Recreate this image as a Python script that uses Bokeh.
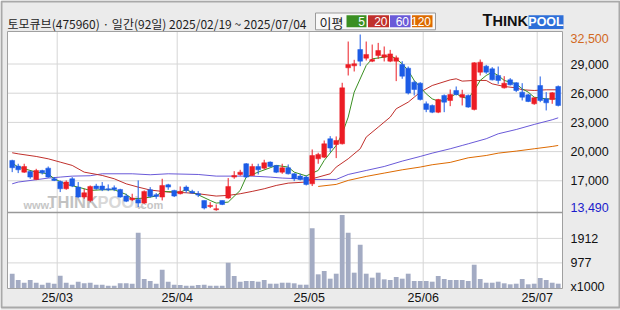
from bokeh.plotting import figure
from bokeh.models import Range1d
from bokeh.embed import file_html
from bokeh.resources import INLINE
from bokeh.core.properties import value

# ---------------- data ----------------
title_text = "토모큐브(475960) · 일간(92일) 2025/02/19 ~ 2025/07/04"
ma_names = ["5", "20", "60", "120"]

opens = [19090, 18510, 17890, 17960, 17140, 18060, 18300, 17210, 16930, 16180,
         17210, 16350, 15330, 14980, 16460, 16460, 16180, 16280, 16110, 15430,
         15050, 15090, 14710, 16080, 15560, 15330, 16590, 16010, 15670, 16350,
         15910, 15670, 14980, 14370, 14020, 14980, 15220, 17380, 17650, 18750,
         17550, 18470, 18300, 18920, 18580, 17890, 18340, 17720, 17480, 17380,
         16690, 19260, 19430, 21320, 20730, 20800, 28610, 28810, 30490, 29600,
         29290, 29870, 29700, 29290, 29290, 28950, 28570, 27130, 27030, 24910,
         24740, 24050, 25770, 25250, 26280, 25590, 25770, 24330, 28160, 28780,
         28500, 27820, 26550, 27370, 27070, 26110, 25830, 24910, 26790, 25420,
         25350, 26690]
highs = [19160, 18750, 18750, 18060, 18230, 18130, 18470, 17380, 17040, 17040,
         17380, 16870, 16180, 16520, 16690, 16870, 16630, 16520, 16180, 15670,
         15670, 17040, 16010, 16350, 15740, 17210, 16690, 16080, 16420, 16520,
         16080, 15940, 14980, 14810, 14570, 14980, 17280, 17990, 18130, 18820,
         18750, 18750, 19160, 18990, 18580, 18750, 18680, 17790, 17720, 17550,
         20220, 19880, 21140, 21590, 21560, 27070, 31310, 29430, 32030, 31310,
         31000, 31170, 30800, 30450, 29870, 29290, 28740, 27310, 27130, 25150,
         24840, 25420, 25870, 26380, 26690, 26350, 25870, 29190, 29460, 28910,
         28680, 28740, 27750, 27550, 27130, 27030, 25940, 25590, 27720, 26110,
         26110, 26790]
lows = [17890, 17790, 17820, 17210, 17070, 17650, 17310, 16970, 15840, 16080,
        16350, 15260, 15150, 14810, 16080, 15940, 15940, 15940, 15260, 14810,
        14910, 14300, 14640, 15260, 15150, 14980, 16080, 15330, 15600, 15770,
        15670, 15330, 14060, 14200, 13920, 14500, 15150, 17210, 17520, 17310,
        17480, 17650, 18170, 18410, 17790, 17720, 17650, 16970, 17040, 16520,
        16460, 18750, 19330, 19950, 19330, 20730, 27820, 28230, 28780, 29360,
        29190, 29530, 29260, 29190, 27240, 27480, 25870, 25770, 25250, 24050,
        23950, 23950, 24050, 24670, 25770, 24740, 24500, 24230, 27820, 27990,
        27310, 26960, 26480, 26790, 26110, 25250, 25080, 24810, 25080, 24230,
        24910, 24640]
closes = [18340, 18130, 18470, 17380, 18060, 17820, 17380, 17040, 16180, 16870,
          16460, 15330, 15770, 16420, 16180, 16080, 16080, 16110, 15330, 14910,
          15220, 14710, 15910, 15390, 15390, 16520, 16350, 15430, 15910, 16010,
          15740, 15530, 14200, 14470, 14130, 14570, 16420, 17550, 17890, 17380,
          18470, 18130, 18850, 18470, 17890, 18340, 17720, 17210, 17140, 16630,
          19600, 19710, 20800, 20360, 21140, 26550, 28950, 29020, 29290, 29980,
          29460, 30390, 29940, 30040, 29630, 27750, 26010, 26380, 25350, 24330,
          24050, 25350, 25080, 25870, 25870, 25870, 24570, 29120, 29190, 28160,
          27370, 27310, 27030, 26860, 26280, 25590, 25150, 25530, 25250, 25010,
          26040, 24740]
volumes = [565, 324, 221, 324, 221, 145, 221, 183, 489, 221,
           145, 260, 198, 221, 145, 145, 107, 107, 198, 198,
           183, 2130, 363, 286, 183, 718, 260, 145, 134, 107,
           107, 134, 145, 107, 107, 107, 985, 477, 260, 286,
           286, 260, 324, 183, 183, 221, 221, 198, 145, 145,
           2298, 541, 668, 375, 565, 2805, 2130, 604, 1672, 565,
           413, 604, 350, 324, 439, 375, 565, 286, 286, 286,
           260, 477, 363, 324, 324, 324, 286, 908, 363, 221,
           221, 260, 198, 160, 183, 363, 160, 183, 400, 324,
           221, 183]

# moving averages (candle index, value)
ma5_idx = [0, 1, 4, 6, 7, 9, 11, 13, 15, 17, 19, 20, 22, 24, 25, 28, 29, 31, 33, 34,
           36, 38, 39, 41, 43, 44, 46, 47, 49, 50, 51, 52, 54, 55, 56, 57, 59, 60, 62, 63,
           64, 65, 66, 67, 68, 69, 70, 71, 72, 73, 74, 75, 76, 77, 78, 79, 80, 81, 82, 84,
           85, 86, 87, 89, 90, 91]
ma5_val = [18820, 18410, 17890, 17720, 17210, 16630, 16350, 16010, 16080, 16080, 15600, 15150, 15220, 15430, 15910, 15840, 16080, 15560, 14980, 14710,
           14810, 16010, 17380, 17890, 18340, 18580, 18410, 17890, 17500, 17790, 18060, 19090, 20630, 21830, 23540, 26110, 28850, 29530, 29700, 29870,
           29530, 29020, 28330, 27310, 26620, 25940, 25420, 25180, 25250, 25590, 25940, 25600, 25450, 26280, 27310, 27820, 28160, 27820, 27310, 26960,
           26450, 26110, 25590, 25420, 25420, 25420]
ma20_idx = [0, 1, 4, 6, 8, 10, 12, 15, 17, 19, 21, 23, 26, 29, 31, 34, 36, 38, 40, 42,
            44, 46, 49, 50, 53, 54, 56, 58, 59, 61, 63, 64, 66, 67, 68, 70, 73, 74, 75, 77,
            79, 80, 82, 84, 85, 87, 89, 91]
ma20_val = [19880, 19770, 19500, 19260, 18920, 18580, 17890, 17550, 17210, 16690, 16350, 16050, 15840, 15770, 15670, 15430, 15500, 15670, 15910, 16180,
            16520, 16760, 16870, 17210, 17720, 18410, 19260, 20290, 21490, 22510, 23540, 24400, 25080, 25590, 26110, 26790, 27370, 27480, 27240, 27310,
            27310, 26960, 26690, 26550, 26350, 26280, 26350, 26350]
ma60_idx = [0, 1, 4, 6, 8, 10, 13, 15, 20, 23, 26, 31, 34, 40, 43, 45, 48, 50, 54, 56,
            59, 62, 65, 68, 70, 73, 75, 76, 79, 81, 84, 87, 90, 91]
ma60_val = [16690, 16870, 17110, 17280, 17380, 17480, 17520, 17720, 17720, 17620, 17720, 17650, 17480, 17480, 17380, 17280, 17210, 17140, 17140, 17650,
            18060, 18470, 19020, 19500, 19840, 20290, 20630, 20800, 21320, 21830, 22270, 22790, 23270, 23470]
ma120_idx = [51, 54, 56, 59, 62, 65, 68, 70, 73, 76, 79, 81, 84, 87, 90, 91]
ma120_val = [16420, 16630, 17040, 17450, 17790, 18130, 18410, 18650, 18890, 19360, 19600, 19840, 20050, 20290, 20530, 20630]

price_ticks = [17000, 20000, 23000, 26000, 29000]
price_max_label = "32,500"
price_min_label = "13,490"
vol_ticks = [977, 1912]
vol_unit = "x1000"
month_first_idx = [8, 28, 50, 69, 88]
month_labels = ["25/03", "25/04", "25/05", "25/06", "25/07"]

# ---------------- styles / layout (pixels) ----------------
UP, DOWN = "#ec1c24", "#1c5ce6"
MA_COLORS = ["#3a8f22", "#c0302c", "#6a5ad8", "#dd6a00"]
VOL_COLOR = "#a3abc3"
GRID = "#d6d6d6"
BG = "#ebebeb"
FONT = value("Liberation Sans")
KFONT = value("Noto Sans CJK KR")
W, H = 620, 310
L, R, T, SPL, B = 7, 562, 31, 212, 288       # panel edges
X_FIRST, X_STEP = 11.7, 6.0                   # candle pitch
P_REF, P_REF_Y, P_PX = 29000, 63.5, 0.009733  # price scale
V_PX = 0.0262                                 # volume scale (px per 1000 shares)

p = figure(width=W, height=H, x_range=Range1d(0, W), y_range=Range1d(H, 0),
           output_backend="svg", toolbar_location=None, min_border=0,
           x_axis_location=None, y_axis_location=None)
p.grid.visible = False
p.outline_line_color = None
p.background_fill_color = BG
p.border_fill_color = BG
p.extra_x_ranges = {"idx": Range1d((0 - X_FIRST) / X_STEP, (W - X_FIRST) / X_STEP)}
p.extra_y_ranges = {
    "price": Range1d(P_REF - (H - P_REF_Y) / P_PX, P_REF + P_REF_Y / P_PX),
    "vol": Range1d(-(H - B) / V_PX, B / V_PX),
}

# outer frame and panel
p.quad(left=[1], right=[W - 1], top=[1], bottom=[307], fill_color=None, line_color="#a9a9a9", line_width=2)
p.quad(left=[L], right=[R], top=[T], bottom=[B], fill_color="white", line_color=None)

# watermark (under everything)
for x, txt, size, col in ((23, "www.", "11px", "#c6c6c6"), (47, "THINK", "16.5px", "#c2c2c2"),
                          (97, "POOL", "16.5px", "#d8d8d8"), (137, ".com", "11px", "#c6c6c6")):
    p.text(x=[x], y=[210.5], text=[txt], text_baseline="bottom", text_font=FONT,
           text_font_style="bold", text_font_size=size, text_color=col)

# grids
month_ticks = [i - 0.5 for i in month_first_idx]
p.segment(x0=month_ticks, x1=month_ticks, y0=[T] * 5, y1=[B] * 5, x_range_name="idx",
          line_color=GRID, line_width=1)
p.segment(x0=[L] * len(price_ticks), x1=[R] * len(price_ticks), y0=price_ticks, y1=price_ticks,
          y_range_name="price", line_color=GRID, line_width=1)
p.segment(x0=[L] * len(vol_ticks), x1=[R] * len(vol_ticks), y0=vol_ticks, y1=vol_ticks,
          y_range_name="vol", line_color=GRID, line_width=1)

idx = list(range(len(closes)))
# volume
p.vbar(x=idx, width=0.8, top=volumes, bottom=0, x_range_name="idx", y_range_name="vol",
       fill_color=VOL_COLOR, line_color=None)

# moving averages
for xs, ys, c in ((ma120_idx, ma120_val, MA_COLORS[3]), (ma60_idx, ma60_val, MA_COLORS[2]),
                  (ma20_idx, ma20_val, MA_COLORS[1]), (ma5_idx, ma5_val, MA_COLORS[0])):
    p.line(xs, ys, x_range_name="idx", y_range_name="price", line_color=c, line_width=1)

# candles
colors = [UP if c >= o else DOWN for o, c in zip(opens, closes)]
tops = [max(o, c) for o, c in zip(opens, closes)]
bots = [min(o, c) for o, c in zip(opens, closes)]
p.segment(x0=idx, y0=lows, x1=idx, y1=highs, x_range_name="idx", y_range_name="price",
          line_color=colors, line_width=1)
p.vbar(x=idx, width=0.8, top=tops, bottom=bots, x_range_name="idx", y_range_name="price",
       fill_color=colors, line_color=colors, line_width=0.5)

# panel borders and separator
p.quad(left=[L], right=[R], top=[T], bottom=[B], fill_color=None, line_color="#a0a0a0", line_width=1)
p.segment(x0=[L], x1=[R], y0=[SPL], y1=[SPL], line_color="#999999", line_width=1.5)

# right-hand labels
p.text(x=[570] * len(price_ticks), y=price_ticks, text=[f"{v:,}" for v in price_ticks],
       y_range_name="price", text_baseline="middle", text_font=FONT, text_font_size="12.5px",
       text_color="#111111")
p.text(x=[570], y=[37.5], text=[price_max_label], text_baseline="middle", text_font=FONT,
       text_font_size="12.5px", text_color="#d2691e")
p.text(x=[570], y=[207], text=[price_min_label], text_baseline="middle", text_font=FONT,
       text_font_size="12.5px", text_color="#1c1ccc")
p.text(x=[570] * 2, y=vol_ticks, text=[str(v) for v in vol_ticks], y_range_name="vol",
       text_baseline="middle", text_font=FONT, text_font_size="12.5px", text_color="#111111")
p.text(x=[570], y=[286], text=[vol_unit], text_baseline="middle", text_font=FONT,
       text_font_size="12.5px", text_color="#111111")
# month labels
p.text(x=month_ticks, y=[297.5] * 5, text=month_labels, x_range_name="idx", text_align="center",
       text_baseline="middle", text_font=FONT, text_font_size="12.5px", text_color="#111111")

# header
p.text(x=[7], y=[22.5], text=[title_text], text_baseline="middle", text_font=KFONT,
       text_font_size="12px", text_color="#1e1e1e")
p.quad(left=[315], right=[435], top=[12.5], bottom=[29.3], fill_color="#f8f8f8", line_color="#9a9a9a")
p.text(x=[319], y=[21.5], text=["이평"], text_baseline="middle", text_font=KFONT,
       text_font_size="13px", text_color="#1e1e1e")
box_l = [346, 367.5, 389.5, 411.5]
box_r = [366, 388.5, 410, 432]
p.quad(left=box_l, right=box_r, top=[14.7] * 4, bottom=[26.8] * 4, fill_color=MA_COLORS, line_color=None)
p.text(x=[r - 1.5 for r in box_r], y=[21] * 4, text=ma_names, text_align="right", text_baseline="middle",
       text_font=FONT, text_font_size="12px", text_color="white")
# logo
p.text(x=[482], y=[28.3], text=["T"], text_baseline="bottom", text_font=FONT,
       text_font_style="bold", text_font_size="16px", text_color="#111111")
p.text(x=[492], y=[28.3], text=["HINK"], text_baseline="bottom", text_font=FONT,
       text_font_style="bold", text_font_size="14.5px", text_color="#111111")
p.quad(left=[528], right=[563], top=[14.7], bottom=[28.5], fill_color="#2e6fd8", line_color=None)
p.text(x=[545.5], y=[28.6], text=["POOL"], text_baseline="bottom", text_align="center",
       text_font=FONT, text_font_style="bold", text_font_size="12.5px", text_color="white")

open("out.html", "w").write(file_html(p, INLINE))
